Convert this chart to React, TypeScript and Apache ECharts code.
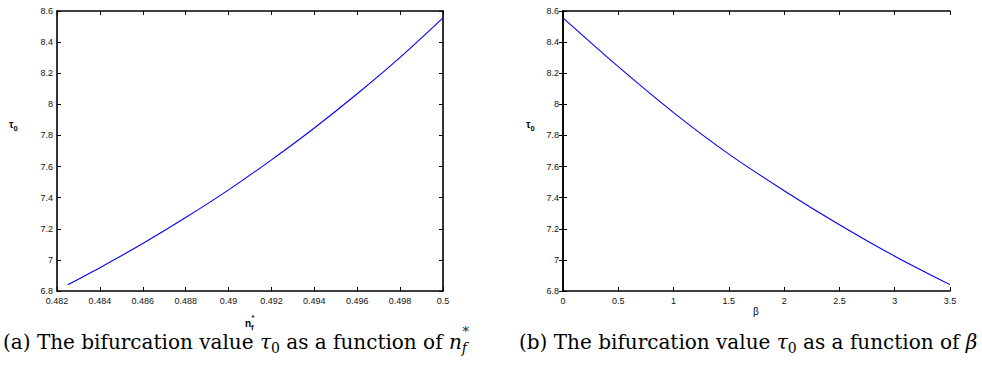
import React, { useEffect, useRef } from "react";
import * as echarts from "echarts";

// Left panel: tau_0 against the steady state n_f*
const nfValues = [0.4825, 0.484, 0.486, 0.488, 0.49, 0.492, 0.494, 0.496, 0.498, 0.5];
const tauVsNf = [6.84, 6.95, 7.105, 7.272, 7.45, 7.643, 7.848, 8.068, 8.302, 8.556];

// Right panel: tau_0 against beta
const betaValues = [0, 0.5, 1, 1.5, 2, 2.5, 3, 3.5];
const tauVsBeta = [8.556, 8.242, 7.947, 7.68, 7.445, 7.226, 7.024, 6.841];

const nfTicks = { min: 0.482, max: 0.5, interval: 0.002 };
const betaTicks = { min: 0, max: 3.5, interval: 0.5 };
const tauTicks = { min: 6.8, max: 8.6, interval: 0.2 };

const AXIS_FONT = "'Liberation Sans', Arial, sans-serif";
const SERIF = "'DejaVu Serif', 'Liberation Serif', serif";

const frameLine = { lineStyle: { color: "#000", width: 1.6 } };
const tickIn = { inside: true, length: 4, lineStyle: { color: "#000", width: 1 } };
const labelStyle = { fontFamily: AXIS_FONT, fontSize: 9, color: "#111" };

const trim = (v: number, d: number) => String(+v.toFixed(d));

function xAxesFor(gridIndex: number, t: { min: number; max: number; interval: number }, dec: number) {
  return [
    {
      type: "value", gridIndex, position: "bottom", ...t,
      axisLine: frameLine, axisTick: tickIn, splitLine: { show: false },
      axisLabel: { ...labelStyle, margin: 5, formatter: (v: number) => trim(v, dec) },
    },
    {
      type: "value", gridIndex, position: "top", ...t,
      axisLine: frameLine, axisTick: tickIn, splitLine: { show: false },
      axisLabel: { show: false },
    },
  ];
}

function yAxesFor(gridIndex: number) {
  return [
    {
      type: "value", gridIndex, position: "left", ...tauTicks,
      axisLine: frameLine, axisTick: tickIn, splitLine: { show: false },
      axisLabel: { ...labelStyle, margin: 4, formatter: (v: number) => trim(v, 1) },
    },
    {
      type: "value", gridIndex, position: "right", ...tauTicks,
      axisLine: frameLine, axisTick: tickIn, splitLine: { show: false },
      axisLabel: { show: false },
    },
  ];
}

const ink = "#111";

const symRich = {
  b: { fontFamily: AXIS_FONT, fontSize: 10, fontWeight: "bold", color: ink, lineHeight: 16 },
  sub: { fontFamily: AXIS_FONT, fontSize: 7.5, fontWeight: "bold", color: ink, lineHeight: 8, verticalAlign: "bottom" },
  g: { fontFamily: AXIS_FONT, fontSize: 10, color: ink, lineHeight: 16 },
};

const capRich = {
  r: { fontFamily: SERIF, fontSize: 20, color: ink, lineHeight: 26 },
  i: { fontFamily: SERIF, fontSize: 20, fontStyle: "italic", color: ink, lineHeight: 26 },
  sub: { fontFamily: SERIF, fontSize: 14, color: ink, lineHeight: 13, verticalAlign: "bottom" },
  isub: { fontFamily: SERIF, fontSize: 14, fontStyle: "italic", color: ink, lineHeight: 13, verticalAlign: "bottom" },
};

export default function App() {
  const ref = useRef<HTMLDivElement>(null);

  useEffect(() => {
    if (!ref.current) return;
    const chart = echarts.init(ref.current, null, { renderer: "svg" });
    chart.setOption({
      animation: false,
      backgroundColor: "#fff",
      grid: [
        { left: 57, top: 11, width: 386, height: 280 },
        { left: 563, top: 11, width: 387, height: 280 },
      ],
      xAxis: [...xAxesFor(0, nfTicks, 3), ...xAxesFor(1, betaTicks, 1)],
      yAxis: [...yAxesFor(0), ...yAxesFor(1)],
      series: [
        {
          type: "line", xAxisIndex: 0, yAxisIndex: 0, smooth: 0.3, showSymbol: false,
          lineStyle: { color: "#0000ff", width: 1.1 },
          data: nfValues.map((x, i) => [x, tauVsNf[i]]),
        },
        {
          type: "line", xAxisIndex: 2, yAxisIndex: 2, smooth: 0.3, showSymbol: false,
          lineStyle: { color: "#0000ff", width: 1.1 },
          data: betaValues.map((x, i) => [x, tauVsBeta[i]]),
        },
      ],
      graphic: [
        { type: "text", left: 9, top: 119, style: { text: "{b|τ}{sub|0}", rich: symRich } },
        { type: "text", left: 526, top: 119, style: { text: "{b|τ}{sub|0}", rich: symRich } },
        // n_f with its star stacked above the subscript
        { type: "text", left: 245, top: 318, style: { text: "{b|n}{sub|f}", rich: symRich } },
        { type: "text", left: 251.5, top: 313, style: { text: "*", font: `bold 7.5px ${AXIS_FONT}`, fill: ink } },
        { type: "text", left: 753, top: 306, style: { text: "{g|β}", rich: symRich } },
        {
          type: "text", left: 3, top: 332,
          style: { text: "{r|(a) The bifurcation value }{i|τ}{sub|0}{r| as a function of }{i|n}{isub|f}", rich: capRich },
        },
        { type: "text", left: 462.5, top: 325, style: { text: "*", font: `13px ${SERIF}`, fill: ink } },
        {
          type: "text", left: 519, top: 332,
          style: { text: "{r|(b) The bifurcation value }{i|τ}{sub|0}{r| as a function of }{i|β}", rich: capRich },
        },
      ],
    });
    return () => chart.dispose();
  }, []);

  return (
    <div
      ref={ref}
      style={{ position: "absolute", left: 0, top: 0, width: 982, height: 376, background: "#fff" }}
    />
  );
}
